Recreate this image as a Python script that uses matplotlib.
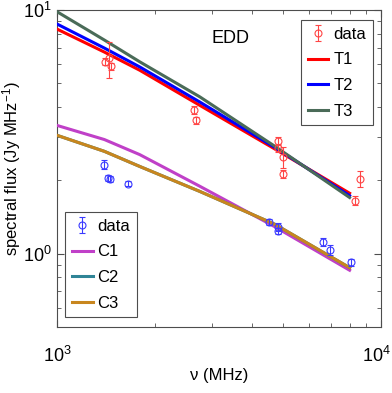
import matplotlib
matplotlib.use("Agg")
import matplotlib.pyplot as plt
from matplotlib.transforms import offset_copy

# ── Data ──────────────────────────────────────────────────────────────────────
# red "data" set (upper), frequency in MHz, flux in Jy
t_freq = [1406, 1447, 1463, 2648, 2686, 4820, 4800, 4990, 4990, 8610, 8320]
t_flux = [6.13, 6.33, 5.88, 3.88, 3.53, 2.90, 2.72, 2.49, 2.13, 2.03, 1.65]
t_err = [0.20, 1.08, 0.20, 0.15, 0.12, 0.12, 0.10, 0.24, 0.08, 0.16, 0.07]

# blue "data" set (lower)
c_freq = [1399, 1437, 1458, 1656, 4510, 4820, 4800, 6640, 6970, 8063]
c_flux = [2.32, 2.05, 2.02, 1.94, 1.35, 1.29, 1.24, 1.12, 1.035, 0.92]
c_err = [0.10, 0.06, 0.06, 0.04, 0.04, 0.05, 0.04, 0.04, 0.05, 0.03]

# model curves
model_freq = [1000, 1400, 1800, 2760, 4700, 8000]
T1 = [8.35, 6.72, 5.66, 4.06, 2.69, 1.77]
T2 = [8.76, 6.98, 5.84, 4.19, 2.73, 1.73]
T3 = [9.84, 7.53, 6.13, 4.40, 2.76, 1.70]
C1 = [3.36, 2.94, 2.55, 1.89, 1.29, 0.855]
C2 = [3.06, 2.63, 2.28, 1.80, 1.32, 0.876]
C3 = [3.06, 2.63, 2.28, 1.80, 1.32, 0.876]

xtick_vals = [1e3, 1e4]
xtick_labels = ["$10^3$", "$10^4$"]

# ── Style ─────────────────────────────────────────────────────────────────────
plt.rcParams.update({
    "font.family": ["Liberation Sans", "DejaVu Sans"],
    "mathtext.fontset": "custom",
    "mathtext.rm": "Liberation Sans",
    "mathtext.it": "Liberation Sans:italic",
    "mathtext.bf": "Liberation Sans:bold",
})

RED_DATA = "#FF4545"
BLUE_DATA = "#3A3AFF"
GRAY = "#4D4D4D"
LW = 2.2

fig = plt.figure(figsize=(3.92, 3.93), dpi=100)
ax = fig.add_axes([57 / 392, 1 - 327 / 393, 324 / 392, 317 / 393])

l_t1, = ax.plot(model_freq, T1, color="#FF0000", lw=LW, zorder=3)
l_t2, = ax.plot(model_freq, T2, color="#0000FF", lw=LW, zorder=3)
l_t3, = ax.plot(model_freq, T3, color="#4A6B58", lw=LW, zorder=3)
l_c1, = ax.plot(model_freq, C1, color="#C040C8", lw=LW, zorder=3)
l_c2, = ax.plot(model_freq, C2, color="#2F8496", lw=LW, zorder=3)
l_c3, = ax.plot(model_freq, C3, color="#C8861E", lw=LW, zorder=3)

eb_kw = dict(fmt="o", mfc="none", ms=5, mew=0.8, elinewidth=0.8,
             capsize=2.5, capthick=0.8, zorder=4)
eb_t = ax.errorbar(t_freq, t_flux, yerr=t_err, mec=RED_DATA, ecolor=RED_DATA, **eb_kw)
eb_c = ax.errorbar(c_freq, c_flux, yerr=c_err, mec=BLUE_DATA, ecolor=BLUE_DATA, **eb_kw)

ax.set_xscale("log")
ax.set_yscale("log")
ax.set_xlim(1e3, 1e4)
ax.set_ylim(0.5, 10)

for s in ax.spines.values():
    s.set_color(GRAY)
    s.set_linewidth(0.8)
ax.tick_params(which="both", direction="in", top=True, right=True, color=GRAY)
ax.tick_params(which="major", length=5, labelsize=13)
ax.tick_params(which="minor", length=3)
ax.tick_params(axis="y", which="major", pad=4)

# x tick labels drawn by hand so the 10^4 label stays inside the figure
ax.set_xticks(xtick_vals)
ax.set_xticklabels(["", ""])
xtrans = ax.get_xaxis_transform()
for v, lab, dx in zip(xtick_vals, xtick_labels, [0, -5]):
    ax.text(v, -0.09, lab, transform=offset_copy(xtrans, fig=fig, x=dx, units="dots"),
            ha="center", va="center", fontsize=13, clip_on=False)

ax.set_xlabel("ν (MHz)", fontsize=12, labelpad=26)
ax.set_ylabel("spectral flux (Jy MHz$^{-1}$)", fontsize=12)
ax.yaxis.set_label_coords(-0.105, 0.5)

ax.text(0.535, 0.91, "EDD", transform=ax.transAxes, fontsize=13,
        ha="center", va="center")

leg_kw = dict(fontsize=12, handlelength=1.25, handletextpad=0.3, borderpad=0.4,
              labelspacing=0.64, borderaxespad=0, fancybox=False,
              edgecolor=GRAY, framealpha=1)
leg1 = ax.legend([eb_t, l_t1, l_t2, l_t3], ["data", "T1", "T2", "T3"],
                 loc="upper right", bbox_to_anchor=(0.975, 0.968), **leg_kw)
leg1.get_frame().set_linewidth(0.8)
ax.add_artist(leg1)
leg2 = ax.legend([eb_c, l_c1, l_c2, l_c3], ["data", "C1", "C2", "C3"],
                 loc="lower left", bbox_to_anchor=(0.025, 0.03), **leg_kw)
leg2.get_frame().set_linewidth(0.8)

fig.savefig("out.png", dpi=100)
